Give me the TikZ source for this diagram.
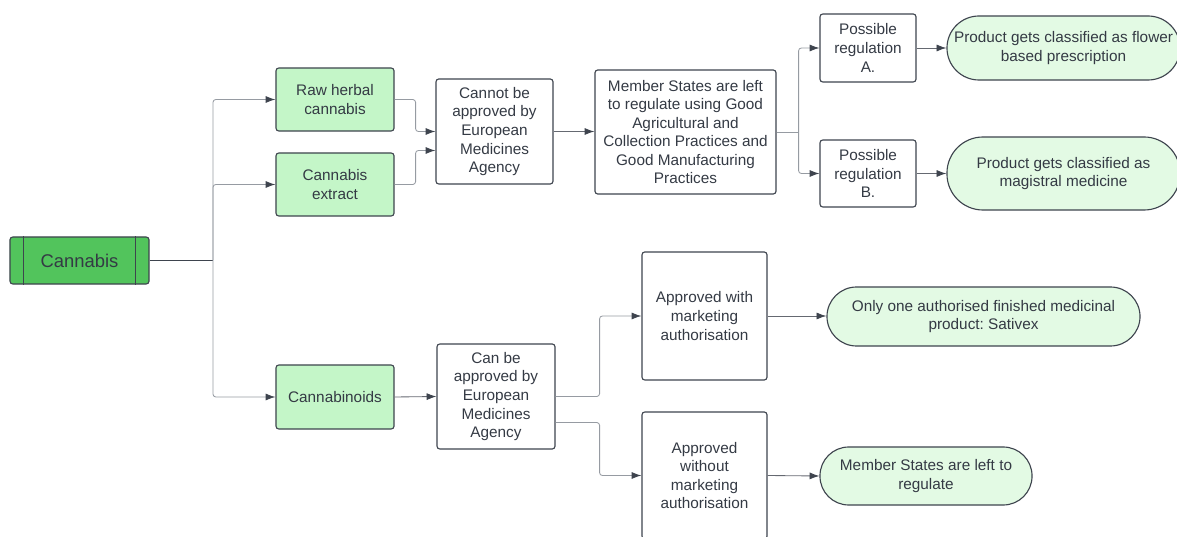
\documentclass[tikz,border=0pt]{standalone}
\usepackage{fontspec}
\setmainfont{Liberation Sans}
\usepackage{tikz}
\usetikzlibrary{arrows.meta}
\frenchspacing

\definecolor{darkgreen}{RGB}{82,196,92}
\definecolor{lightgreen}{RGB}{196,246,200}
\definecolor{palegreen}{RGB}{227,250,228}
\definecolor{edgegray}{RGB}{62,68,78}
\definecolor{linkgray}{RGB}{150,155,162}
\definecolor{textgray}{RGB}{52,58,68}

\tikzset{
  box/.style={draw=edgegray, thick, rounded corners=2pt, align=center, inner sep=2pt,
              text=textgray, font=\fontsize{10.9}{13.2}\selectfont},
  greenbox/.style={box, fill=lightgreen},
  outcome/.style={box, fill=palegreen},
  link/.style={draw=linkgray, semithick, rounded corners=2pt},
  arrow/.style={link, -{Latex[length=7pt,width=5pt,color=edgegray]}, draw=edgegray!80}
}

\begin{document}
\begin{tikzpicture}[x=0.025cm, y=-0.025cm]
      % fix the frame of the picture
      \useasboundingbox (0,0) rectangle (1177,537);

      % Draw the root box Cannabis with its two inner bars
      \node[box, fill=darkgreen, minimum width=3.475cm, minimum height=1.175cm,
            font=\fontsize{13.1}{15}\selectfont] (cannabis) at (79.5,260.5) {Cannabis};
      \draw[edgegray, thick] ([xshift=0.35cm]cannabis.north west) -- ([xshift=0.35cm]cannabis.south west);
      \draw[edgegray, thick] ([xshift=-0.35cm]cannabis.north east) -- ([xshift=-0.35cm]cannabis.south east);

      % the three kinds of cannabis
      \node[greenbox, minimum width=2.95cm, minimum height=1.575cm] (raw) at (335,99.5) {Raw herbal\\cannabis};
      \node[greenbox, minimum width=2.95cm, minimum height=1.575cm] (extract) at (335,184.5) {Cannabis\\extract};
      \node[greenbox, minimum width=2.95cm, minimum height=1.6cm] (cannabinoids) at (335,397) {Cannabinoids};

      % upper branch
      \node[box, minimum width=2.925cm, minimum height=2.625cm] (cannot) at (494.5,131.5)
            {Cannot be\\approved by\\European\\Medicines\\Agency};
      \node[box, minimum width=4.525cm, minimum height=3.1cm] (member) at (685.5,132)
            {Member States are left\\to regulate using Good\\Agricultural and\\Collection Practices and\\Good Manufacturing\\Practices};
      \node[box, minimum width=2.4cm, minimum height=1.7cm] (possA) at (868,48) {Possible\\regulation\\A.};
      \node[box, minimum width=2.4cm, minimum height=1.675cm] (possB) at (868,173.5) {Possible\\regulation\\B.};
      \node[outcome, rounded corners=0.8cm, minimum width=5.825cm, minimum height=1.6cm] (flower) at (1063.5,48)
            {Product gets classified as flower\\based prescription};
      \node[outcome, rounded corners=0.9cm, minimum width=5.825cm, minimum height=1.825cm] (magistral) at (1063.5,173.5)
            {Product gets classified as\\magistral medicine};

      % lower branch
      \node[box, minimum width=2.95cm, minimum height=2.625cm] (canbe) at (496,396.5)
            {Can be\\approved by\\European\\Medicines\\Agency};
      \node[box, minimum width=3.125cm, minimum height=3.2cm] (with) at (704.5,316)
            {Approved with\\marketing\\authorisation};
      \node[box, minimum width=3.125cm, minimum height=3.175cm] (without) at (704.5,475.5)
            {Approved\\without\\marketing\\authorisation};
      \node[outcome, rounded corners=0.74cm, minimum width=7.825cm, minimum height=1.475cm] (sativex) at (983.5,316.5)
            {Only one authorised finished medicinal\\product: Sativex};
      \node[outcome, rounded corners=0.72cm, minimum width=5.3cm, minimum height=1.45cm] (left) at (926,476)
            {Member States are left to\\regulate};

      % connectors from Cannabis
      \coordinate (split) at (213,260.5);
      \draw[edgegray, thick] (cannabis.east) -- (split);
      \draw[arrow, draw=linkgray] (split) |- (raw.west);
      \draw[arrow, draw=linkgray] (split) |- (extract.west);
      \draw[arrow, draw=linkgray] (split) |- (cannabinoids.west);

      % connectors of the upper branch
      \draw[arrow, draw=linkgray] (raw.east) -- ++(21,0) |- (cannot.west);
      \draw[arrow, draw=linkgray] (extract.east) -- ++(21,0) |- ([yshift=-0.475cm]cannot.west);
      \draw[arrow] (cannot.east) -- (cannot.east -| member.west);
      \draw[link] (member.east) -- ++(22,0) coordinate (fork);
      \draw[arrow, draw=linkgray] (fork) |- (possA.west);
      \draw[arrow, draw=linkgray] (fork) |- (possB.west);
      \draw[arrow] (possA.east) -- (flower.west);
      \draw[arrow] (possB.east) -- (magistral.west);

      % connectors of the lower branch
      \draw[arrow] (cannabinoids.east) -- (canbe.west);
      \draw[arrow, draw=linkgray] (canbe.east) -- ++(44,0) |- (with.west);
      \draw[arrow, draw=linkgray] ([yshift=-0.65cm]canbe.east) -- ++(44,0) |- (without.west);
      \draw[arrow] (with.east) -- (with.east -| sativex.west);
      \draw[arrow] (without.east) -- (left.west);
    \end{tikzpicture}
\end{document}
